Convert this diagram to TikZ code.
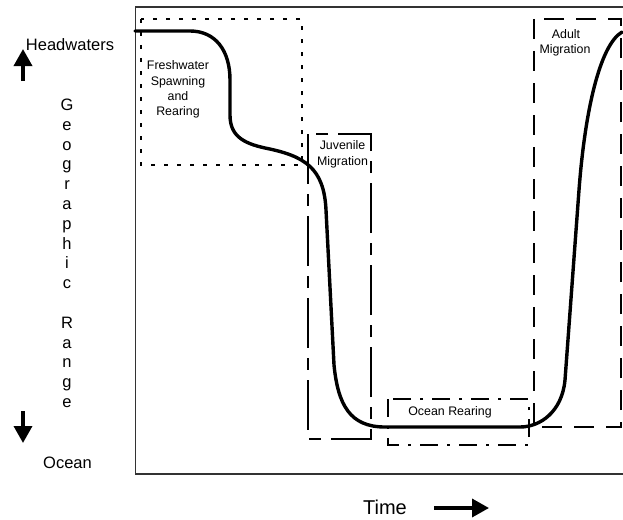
\documentclass[tikz,border=0pt]{standalone}
\usepackage{fontspec}
\setmainfont{Liberation Sans}
\usetikzlibrary{arrows.meta}
\begin{document}
\begin{tikzpicture}[x=1pt,y=-1pt,
  frame/.style={draw=black!80, line width=1.2pt},
  salmon/.style={line width=3.4pt, line join=round, line cap=round},
  fwbox/.style={draw, line width=1.8pt, dash pattern=on 4pt off 9pt},
  juvbox/.style={draw, line width=1.8pt, dash pattern=on 50pt off 10pt on 12pt off 10pt},
  ocbox/.style={draw, line width=1.8pt, dash pattern=on 18pt off 9pt on 3pt off 9pt},
  adbox/.style={draw, line width=1.8pt, dash pattern=on 20pt off 12pt},
  big/.style={font=\fontsize{16.5}{19.8}\selectfont, inner sep=0pt, anchor=base},
  small/.style={font=\fontsize{12.4}{15}\selectfont, inner sep=0pt, anchor=base},
  timefont/.style={font=\fontsize{20}{24}\selectfont, inner sep=0pt, anchor=base},
  bigarrow/.style={line width=3.5pt, -{Triangle[length=17pt,width=18pt]}}
]
\useasboundingbox (0,0) rectangle (623,519);
% frame
\draw[frame] (623,7) -- (135.5,7) -- (135.5,474) -- (623,474);
% phase boxes
\draw[fwbox] (141,19) rectangle (302,165);
\draw[juvbox] (308,134) rectangle (371,439);
\draw[ocbox] (388,399) rectangle (529,445);
\draw[adbox] (534,19) rectangle (621,427);
% life-history curve
\draw[salmon] (135,31) -- (190,31)
  .. controls (215,31) and (230,50) .. (230,80) -- (230,115)
  .. controls (230,135) and (242,143) .. (265,148)
  .. controls (305,156) and (324,168) .. (326,210) -- (334,365)
  .. controls (338,405) and (350,427) .. (385,427) -- (520,427)
  .. controls (540,427) and (562,412) .. (565,380) -- (579,190)
  .. controls (585,110) and (600,45) .. (622,32);
% arrows
\coordinate (upS) at (23,81);
\coordinate (upE) at (23,49);
\coordinate (dnS) at (23,411);
\coordinate (dnE) at (23,443);
\coordinate (tmS) at (434,508);
\coordinate (tmE) at (489,508);
\draw[bigarrow] (upS) -- (upE);
\draw[bigarrow] (dnS) -- (dnE);
\draw[bigarrow] (tmS) -- (tmE);
% axis texts
\node[big] (head) at (70,51) {Headwaters};
\node[big] (ocean) at (67.5,468) {Ocean};
\node[timefont] (time) at (385,514) {Time};
\foreach \l [count=\i from 0] in {G,e,o,g,r,a,p,h,i,c,{},R,a,n,g,e}
  \node[big] (v\i) at (67,110.5+\i*19.8) {\l};
% box labels
\node[small] (fw1) at (178,70) {Freshwater};
\node[small] (fw2) at (178,85) {Spawning};
\node[small] (fw3) at (178,100) {and};
\node[small] (fw4) at (178,115) {Rearing};
\node[small] (jv1) at (342.5,149) {Juvenile};
\node[small] (jv2) at (342.5,165) {Migration};
\node[small] (ad1) at (566,38) {Adult};
\node[small] (ad2) at (565,53) {Migration};
\node[small] (oc1) at (450,415) {Ocean Rearing};
\end{tikzpicture}
\end{document}
